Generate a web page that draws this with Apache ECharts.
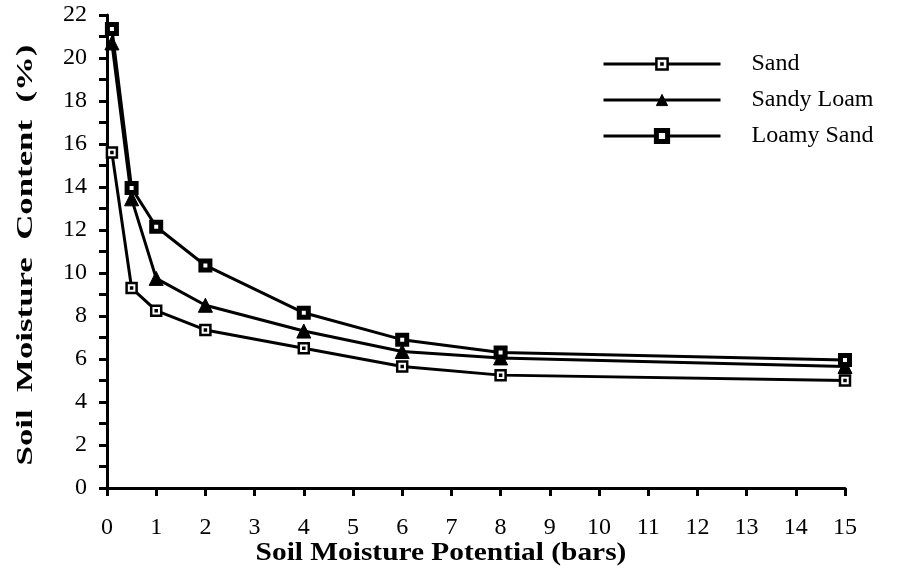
<!DOCTYPE html>
<html>
<head>
<meta charset="utf-8">
<script src="https://cdn.jsdelivr.net/npm/echarts@6/dist/echarts.min.js"></script>
<style>
  html, body { margin: 0; padding: 0; background: #fff; }
  #chart { width: 906px; height: 571px; }
</style>
</head>
<body>
<div id="chart"></div>
<script>
// Soil moisture retention: content (%) at each suction (bars)
const potentials = [0.1, 0.5, 1, 2, 4, 6, 8, 15];
const sand       = [15.6, 9.3, 8.25, 7.35, 6.5, 5.65, 5.25, 5.0];
const sandyLoam  = [20.7, 13.45, 9.75, 8.5, 7.3, 6.35, 6.05, 5.65];
const loamySand  = [21.35, 13.95, 12.15, 10.35, 8.15, 6.9, 6.3, 5.95];
const seriesNames = ['Sand', 'Sandy Loam', 'Loamy Sand'];
const xTitle = 'Soil Moisture Potential (bars)';
const yTitle = 'Soil  Moisture  Content  (%)';

const FONT = '"Liberation Serif", "DejaVu Serif", serif';
const pairs = vals => potentials.map((x, i) => [x, vals[i]]);

// open square with a dot in the middle
const DOT_SQUARE = 'path://M0,0H10V10H0Z M4.5,4.5H5.5V5.5H4.5Z';

const chart = echarts.init(document.getElementById('chart'), null, { renderer: 'canvas' });

const lineBase = {
  type: 'line',
  lineStyle: { color: '#000', width: 3 },
  clip: false,
  z: 3
};

chart.setOption({
  animation: false,
  backgroundColor: '#fff',
  grid: { left: 107, right: 61, top: 15, bottom: 83 },
  legend: {
    orient: 'vertical',
    left: 597,
    top: 47,
    itemWidth: 117,
    itemHeight: 14,
    itemGap: 12,
    data: [
      { name: seriesNames[0], itemStyle: { color: '#fff', borderColor: '#000', borderWidth: 2.5 }, lineStyle: { width: 3, color: '#000' } },
      { name: seriesNames[1], itemStyle: { color: '#000', borderColor: '#000', borderWidth: 1 }, lineStyle: { width: 3, color: '#000' } },
      { name: seriesNames[2], itemStyle: { color: '#fff', borderColor: '#000', borderWidth: 5 }, lineStyle: { width: 3, color: '#000' } }
    ],
    textStyle: { fontFamily: FONT, fontSize: 24, color: '#000', padding: [0, 0, 0, 26] }
  },
  xAxis: {
    type: 'value',
    min: 0,
    max: 15,
    interval: 1,
    axisLine: { lineStyle: { color: '#000', width: 3 } },
    axisTick: { inside: false, length: 8, lineStyle: { color: '#000', width: 3 } },
    axisLabel: { fontFamily: FONT, fontSize: 24, color: '#000', margin: 28 },
    splitLine: { show: false }
  },
  yAxis: {
    type: 'value',
    min: 0,
    max: 22,
    interval: 2,
    axisLine: { show: true, lineStyle: { color: '#000', width: 3 } },
    axisTick: { show: true, length: 8, lineStyle: { color: '#000', width: 3 } },
    minorTick: { show: true, splitNumber: 2, length: 8, lineStyle: { color: '#000', width: 3 } },
    axisLabel: { fontFamily: FONT, fontSize: 24, color: '#000', margin: 20 },
    splitLine: { show: false }
  },
  graphic: [
    {
      type: 'text',
      x: 441,
      y: 553,
      scaleX: 1.13,
      style: {
        text: xTitle,
        font: 'bold 26px ' + FONT,
        fill: '#000',
        align: 'center',
        verticalAlign: 'middle'
      }
    },
    {
      type: 'text',
      x: 26,
      y: 255,
      rotation: Math.PI / 2,
      scaleX: 1.45,
      style: {
        text: yTitle,
        font: 'bold 24px ' + FONT,
        fill: '#000',
        align: 'center',
        verticalAlign: 'middle'
      }
    }
  ],
  series: [
    Object.assign({}, lineBase, {
      name: 'Sand',
      data: pairs(sand),
      symbol: DOT_SQUARE,
      symbolSize: 10,
      itemStyle: { color: '#fff', borderColor: '#000', borderWidth: 2.5 }
    }),
    Object.assign({}, lineBase, {
      name: 'Sandy Loam',
      data: pairs(sandyLoam),
      symbol: 'triangle',
      symbolSize: 14,
      itemStyle: { color: '#000', borderColor: '#000', borderWidth: 1 }
    }),
    Object.assign({}, lineBase, {
      name: 'Loamy Sand',
      data: pairs(loamySand),
      symbol: 'rect',
      symbolSize: 9,
      itemStyle: { color: '#fff', borderColor: '#000', borderWidth: 5 }
    })
  ]
});
</script>
</body>
</html>
